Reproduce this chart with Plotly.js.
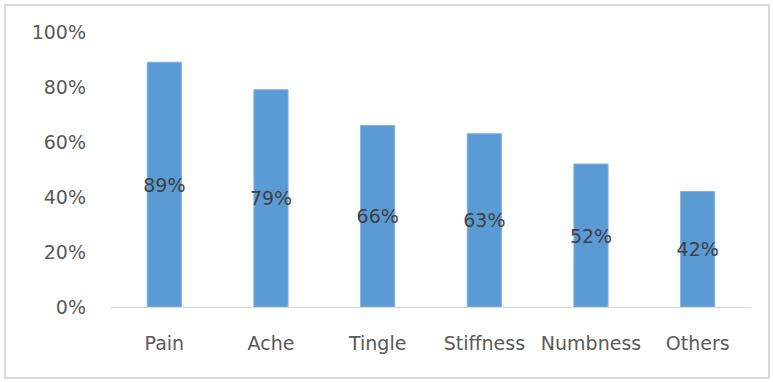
<!DOCTYPE html>
<html>
<head>
<meta charset="utf-8">
<script src="https://cdn.plot.ly/plotly-3.0.1.min.js"></script>
<style>
html,body{margin:0;padding:0;background:#fff;}
#frame{position:absolute;left:4px;top:4px;width:766px;height:375px;border:2px solid #d9d9d9;box-sizing:border-box;}
#chart{position:absolute;left:0;top:0;width:773px;height:382px;}
</style>
</head>
<body>
<div id="chart"></div>
<div id="frame"></div>
<script>
const categories = ["Pain", "Ache", "Tingle", "Stiffness", "Numbness", "Others"];
const values = [0.89, 0.79, 0.66, 0.63, 0.52, 0.42];
const tickValues = [0, 0.2, 0.4, 0.6, 0.8, 1.0];
const tickLabels = ["0%", "20%", "40%", "60%", "80%", "100%"];

const trace = {
  type: "bar",
  x: categories,
  y: values,
  text: values.map(v => Math.round(v * 100) + "%"),
  textposition: "inside",
  insidetextanchor: "middle",
  constraintext: "none",
  textangle: 0,
  textfont: {family: "DejaVu Sans", size: 19, color: "#404040"},
  marker: {color: "#5b9bd5", line: {color: "#7fb2e2", width: 1}},
  hoverinfo: "none"
};

const layout = {
  width: 773,
  height: 382,
  margin: {l: 111, r: 22, t: 32, b: 75},
  paper_bgcolor: "#ffffff",
  plot_bgcolor: "#ffffff",
  bargap: 0.68,
  showlegend: false,
  font: {family: "DejaVu Sans", size: 19, color: "#595959"},
  xaxis: {
    showline: true,
    linecolor: "#d9d9d9",
    linewidth: 1,
    showgrid: false,
    zeroline: false,
    ticks: "",
    ticklabelstandoff: 19,
    tickfont: {family: "DejaVu Sans", size: 19, color: "#595959"}
  },
  yaxis: {
    range: [0, 1],
    tickvals: tickValues,
    ticktext: tickLabels,
    showgrid: false,
    zeroline: false,
    showline: false,
    ticks: "",
    ticklabelstandoff: 24,
    tickfont: {family: "DejaVu Sans", size: 19, color: "#595959"}
  }
};

Plotly.newPlot("chart", [trace], layout, {displayModeBar: false, staticPlot: true});
</script>
</body>
</html>
